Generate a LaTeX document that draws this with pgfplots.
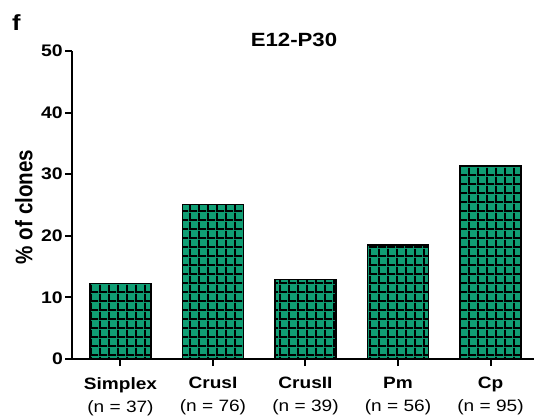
\documentclass[border=0pt]{standalone}
\usepackage{pgfplots}
\pgfplotsset{compat=1.18}
\usetikzlibrary{patterns}
\usepackage{fontspec}
\setmainfont{Liberation Sans}[FakeStretch=1.16]
\newfontfamily\ylabfont{Liberation Sans}[FakeStretch=0.862]
\definecolor{barteal}{RGB}{16,158,116}
\pgfdeclarepatternformonly{cellgrid}{\pgfqpoint{0pt}{0pt}}{\pgfqpoint{9bp}{9bp}}{\pgfqpoint{9bp}{9bp}}{%
  \pgfpathrectangle{\pgfqpoint{0pt}{0pt}}{\pgfqpoint{9bp}{2bp}}%
  \pgfpathrectangle{\pgfqpoint{0pt}{0pt}}{\pgfqpoint{2bp}{9bp}}%
  \pgfusepath{fill}}
\pgfplotstableread{
x val
0 12.21
1 25.08
2 12.87
3 18.48
4 31.35
}\clonedata
\begin{document}
\begin{tikzpicture}
\begin{axis}[
  at={(0,0)}, anchor=south west, scale only axis,
  width=462bp, height=308bp,
  xmin=-0.524, xmax=4.47, ymin=0, ymax=50,
  axis x line*=bottom, axis y line*=left,
  axis line style={line width=2bp, -, black},
  ytick={0,10,20,30,40,50},
  xtick={0,1,2,3,4},
  xticklabels={{\bfseries Simplex\\(n = 37)},{\bfseries CrusI\\(n = 76)},{\bfseries CrusII\\(n = 39)},{\bfseries Pm\\(n = 56)},{\bfseries Cp\\(n = 95)}},
  xticklabel style={align=center, font=\fontsize{16.5}{23}\selectfont, yshift=-8bp},
  /pgf/number format/assume math mode=true,
  yticklabel style={font=\bfseries\fontsize{16.8}{18}\selectfont, inner sep=0pt, xshift=-2bp},
  tick style={line width=2bp, black},
  tick align=outside, major tick length=7bp,
  ybar, bar width=61bp,
  enlargelimits=false, clip=false,
]
\addplot[draw=black, line width=1.4bp, fill=barteal, postaction={pattern=cellgrid, pattern color=black}] table[x=x, y=val] {\clonedata};
\node[anchor=base, font=\bfseries\fontsize{19.2}{21}\selectfont] at (rel axis cs:0.4805,1.013) {E12-P30};
\node[anchor=base west, font=\bfseries\fontsize{22}{24}\selectfont, inner sep=0pt] at (rel axis cs:-0.13,1.068) {f};
\node[rotate=90, font=\ylabfont\bfseries\fontsize{24}{26}\selectfont, inner sep=0pt] at (rel axis cs:-0.104,0.494) {\% of clones};
\end{axis}
\pgfresetboundingbox
\path (-72bp,-60bp) rectangle (462bp,359bp);
\end{tikzpicture}
\end{document}
